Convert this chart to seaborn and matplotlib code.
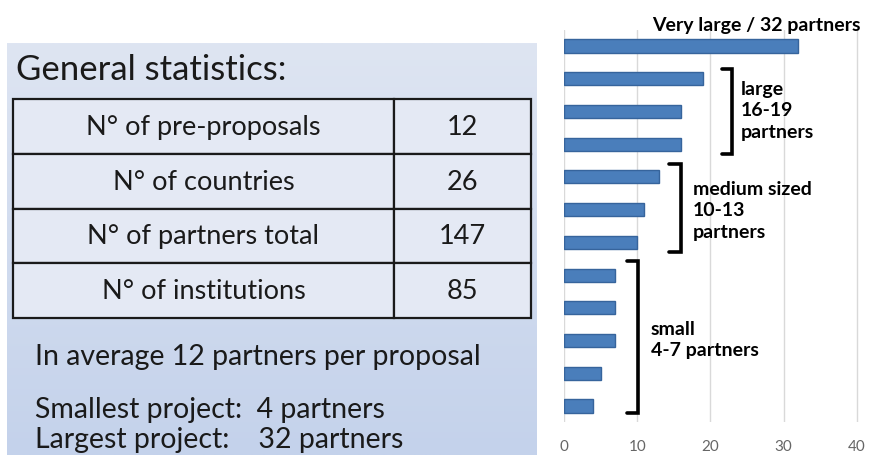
import numpy as np
import pandas as pd
import matplotlib
matplotlib.use("Agg")
import matplotlib.pyplot as plt
from matplotlib.colors import LinearSegmentedColormap
from matplotlib.patches import Rectangle
import seaborn as sns

# --- data ---
stat_labels = ["N° of pre-proposals", "N° of countries", "N° of partners total", "N° of institutions"]
stat_values = [12, 26, 147, 85]
notes = ["In average 12 partners per proposal",
         "Smallest project:  4 partners",
         "Largest project:    32 partners"]

partners = [32, 19, 16, 16, 13, 11, 10, 7, 7, 7, 5, 4]
proposals = ["P%d" % (i + 1) for i in range(len(partners))]
top_label = "Very large / 32 partners"
group_labels = ["large\n16-19\npartners", "medium sized\n10-13\npartners", "small\n4-7 partners"]

sns.set_theme(style="white")
plt.rcParams['font.family'] = ['Lato', 'DejaVu Sans']

W, H = 870, 456
fig = plt.figure(figsize=(W / 100, H / 100), dpi=100)


def box(x0, y0, x1, y1):
    # pixel box (top-left origin) -> figure fraction rect
    return [x0 / W, 1 - y1 / H, (x1 - x0) / W, (y1 - y0) / H]


# left panel with the statistics table
pan = fig.add_axes([0, 0, 1, 1])
cmap = LinearSegmentedColormap.from_list('bg', ['#dee5f2', '#c4d2eb'])
pan.imshow(np.linspace(0, 1, 200).reshape(-1, 1), cmap=cmap, aspect='auto',
           extent=(7, 537, 456, 44), zorder=0)
pan.set_xlim(0, W)
pan.set_ylim(H, 0)
pan.axis('off')

pan.text(16, 70, "General statistics:", fontsize=25, va='center', ha='left', color='#1a1a1a')

row_edges = np.linspace(100, 319, len(stat_labels) + 1)
col_edges = [13, 394, 531]
for i, (lab, val) in enumerate(zip(stat_labels, stat_values)):
    y0, y1 = row_edges[i], row_edges[i + 1]
    for j in range(2):
        pan.add_patch(Rectangle((col_edges[j], y0), col_edges[j + 1] - col_edges[j], y1 - y0,
                                facecolor='#e4e9f4', edgecolor='#1a1a1a', lw=1.6, zorder=2))
    yc = (y0 + y1) / 2
    pan.text((col_edges[0] + col_edges[1]) / 2, yc, lab, fontsize=19.5, ha='center', va='center',
             color='#1a1a1a', zorder=3)
    pan.text((col_edges[1] + col_edges[2]) / 2, yc, str(val), fontsize=19.5, ha='center', va='center',
             color='#1a1a1a', zorder=3)

for txt, y in zip(notes, [357, 410, 440]):
    pan.text(35, y, txt, fontsize=20.5, ha='left', va='center', color='#1a1a1a')

# right: partners per proposal
df = pd.DataFrame({'proposal': proposals, 'partners': partners})
ax = fig.add_axes(box(564, 30.6, 864, 423.4))
sns.barplot(data=df, x='partners', y='proposal', color='#4a7ebb', saturation=1, width=0.4,
            edgecolor='#36649c', linewidth=1.0, ax=ax)
ax.set_xlim(0, 41)
ax.set_xticks([0, 10, 20, 30, 40])
ax.xaxis.grid(True, color='#d9d9d9', lw=1)
ax.set_axisbelow(True)
ax.set_yticks([])
ax.set_xlabel('')
ax.set_ylabel('')
ax.patch.set_alpha(0)
sns.despine(ax=ax, left=True, bottom=True)
ax.tick_params(axis='x', length=0, pad=12, labelsize=11, labelcolor='#666666')

# annotations on top, pixel coordinates
ov = fig.add_axes([0, 0, 1, 1])
ov.set_xlim(0, W)
ov.set_ylim(H, 0)
ov.axis('off')
ov.patch.set_alpha(0)

ov.text(652, 26, top_label, fontsize=14, fontweight='bold', ha='left', va='center', color='black')

brackets = [(722, 732, 70, 155), (669, 681, 165, 253), (627, 638, 262, 414)]
text_pos = [(741, 111), (693, 211), (651, 340)]
for (xa, xb, ya, yb), (tx, ty), lab in zip(brackets, text_pos, group_labels):
    ov.plot([xa, xb, xb, xa], [ya, ya, yb, yb], color='black', lw=2.6, solid_joinstyle='miter')
    ov.text(tx, ty, lab, fontsize=14, fontweight='bold', ha='left', va='center',
            linespacing=1.33, color='black')

fig.savefig('out.png', dpi=100)
